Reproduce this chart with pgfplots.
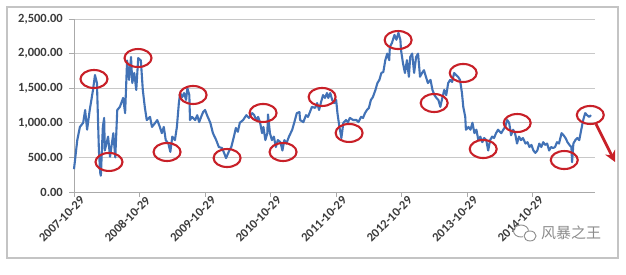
\documentclass[border=0pt]{standalone}
\usepackage{fontspec}
\setmainfont{Carlito}
\newfontfamily\cjk{Noto Sans CJK SC}
\usepackage{pgfplots}
\pgfplotsset{compat=1.18}
\usetikzlibrary{arrows.meta}
\definecolor{lineblue}{RGB}{66,114,182}
\definecolor{annred}{RGB}{200,32,40}
\definecolor{gridgray}{RGB}{200,200,200}
\definecolor{axgray}{RGB}{170,170,170}
\definecolor{txtgray}{RGB}{60,60,60}
\definecolor{wmgray}{RGB}{140,140,140}
\pgfdeclareplotmark{redellipse}{\pgfpathellipse{\pgfpointorigin}{\pgfpoint{13.5pt}{0pt}}{\pgfpoint{0pt}{9pt}}\pgfusepathqstroke}
\begin{document}
\begin{tikzpicture}
\path[use as bounding box] (0pt,0pt) rectangle (626pt,275pt);
\fill[white] (0pt,0pt) rectangle (626pt,275pt);
\draw[axgray!70, line width=1.2pt] (7pt,17pt) rectangle (618pt,268pt);
\begin{axis}[
  at={(74pt,83pt)}, anchor=south west,
  scale only axis, width=521pt, height=173pt,
  xmin=0, xmax=7.95, ymin=0, ymax=2500,
  axis lines*=left, axis line style={axgray, line width=0.8pt, -},
  tick pos=left, tick align=outside, major tick length=5pt,
  tick style={axgray, line width=0.8pt},
  ytick={0,500,1000,1500,2000,2500},
  ymajorgrids, grid style={gridgray, line width=0.8pt},
  xtick={0,1,2,3,4,5,6,7},
  xticklabels={2007-10-29,2008-10-29,2009-10-29,2010-10-29,2011-10-29,2012-10-29,2013-10-29,2014-10-29},
  xticklabel style={rotate=45, anchor=east, inner sep=0pt, xshift=5pt, yshift=-7pt, font=\fontsize{12.5}{14}\selectfont\bfseries, text=txtgray},
  yticklabel style={inner sep=0pt, xshift=-6pt, font=\fontsize{12.5}{14}\selectfont\bfseries, text=txtgray},
  /pgf/number format/.cd, fixed, fixed zerofill, precision=2, 1000 sep={,}, assume math mode=true,
  /pgfplots/.cd, clip=false,
]
\addplot[lineblue, line width=2.1pt, line join=round] coordinates {
(0.00,330)(0.05,750)(0.09,940)(0.14,1000)(0.17,1185)(0.20,900)(0.24,1185)(0.29,1475)(0.32,1690)(0.35,1575)
(0.38,600)(0.40,275)(0.41,235)(0.44,940)(0.46,1070)(0.47,600)(0.52,800)(0.55,510)(0.60,850)(0.63,500)
(0.66,1185)(0.70,1230)(0.75,1360)(0.78,1140)(0.81,1900)(0.84,1620)(0.87,1950)(0.89,1575)(0.92,1720)(0.95,1475)
(0.98,1935)(1.02,1900)(1.05,1475)(1.08,1230)(1.11,1040)(1.16,1085)(1.19,940)(1.24,1000)(1.27,1040)(1.31,940)
(1.34,850)(1.37,940)(1.40,750)(1.44,700)(1.47,580)(1.50,800)(1.54,750)(1.57,940)(1.60,1285)(1.62,1430)
(1.65,1370)(1.68,1430)(1.71,1330)(1.73,1500)(1.76,1400)(1.77,1040)(1.80,1085)(1.85,1040)(1.88,1110)(1.91,1010)
(1.94,1085)(1.97,1155)(2.00,1185)(2.03,1110)(2.08,1000)(2.12,850)(2.17,750)(2.21,650)(2.26,635)(2.29,565)
(2.32,490)(2.37,600)(2.40,650)(2.44,800)(2.47,925)(2.50,870)(2.53,1000)(2.58,1040)(2.63,1110)(2.67,1070)
(2.72,1140)(2.75,1110)(2.78,1040)(2.81,1085)(2.84,1000)(2.87,850)(2.89,940)(2.92,750)(2.95,850)(2.96,1120)
(2.99,850)(3.02,750)(3.05,800)(3.08,650)(3.11,750)(3.15,720)(3.18,600)(3.21,750)(3.24,700)(3.28,800)
(3.33,900)(3.36,1000)(3.40,1140)(3.44,1155)(3.45,1040)(3.50,1010)(3.54,1110)(3.57,1085)(3.60,1155)(3.63,1230)
(3.68,1215)(3.71,1285)(3.74,1185)(3.77,1300)(3.80,1400)(3.83,1360)(3.86,1430)(3.88,1360)(3.91,1430)(3.94,1330)
(3.97,1285)(4.00,1330)(4.02,1140)(4.05,940)(4.08,780)(4.11,1000)(4.15,1040)(4.18,1010)(4.21,1070)(4.26,1040)
(4.31,1040)(4.34,1010)(4.38,1085)(4.41,1070)(4.44,1140)(4.47,1185)(4.50,1215)(4.53,1330)(4.56,1370)(4.60,1475)
(4.63,1575)(4.66,1620)(4.69,1720)(4.72,1735)(4.75,1905)(4.78,2000)(4.81,1905)(4.82,2100)(4.85,2150)(4.89,2270)
(4.92,2200)(4.95,2300)(4.98,2200)(4.99,2050)(5.02,1860)(5.05,1720)(5.08,1905)(5.11,1665)(5.13,1950)(5.16,2000)
(5.19,1720)(5.22,1950)(5.25,2000)(5.28,1665)(5.31,1720)(5.34,1760)(5.37,1665)(5.40,1575)(5.44,1620)(5.47,1475)
(5.50,1400)(5.53,1360)(5.56,1330)(5.59,1230)(5.62,1360)(5.65,1475)(5.68,1400)(5.71,1575)(5.74,1620)(5.77,1590)
(5.80,1720)(5.83,1690)(5.86,1665)(5.89,1620)(5.92,1430)(5.94,1230)(5.97,1085)(5.98,900)(6.02,940)(6.05,900)
(6.08,1000)(6.11,850)(6.14,900)(6.17,750)(6.20,800)(6.23,720)(6.26,780)(6.29,750)(6.32,600)(6.35,750)
(6.38,800)(6.41,780)(6.44,850)(6.47,900)(6.52,850)(6.55,900)(6.58,940)(6.61,1040)(6.64,1000)(6.67,820)
(6.70,900)(6.73,850)(6.76,700)(6.79,800)(6.82,750)(6.85,780)(6.89,700)(6.92,720)(6.95,650)(6.98,680)
(7.01,600)(7.04,565)(7.07,600)(7.10,700)(7.13,650)(7.16,720)(7.19,680)(7.22,700)(7.25,600)(7.28,650)
(7.31,635)(7.34,650)(7.37,720)(7.40,700)(7.44,850)(7.47,820)(7.50,780)(7.53,720)(7.56,680)(7.59,650)
(7.60,430)(7.62,700)(7.65,750)(7.68,780)(7.71,750)(7.74,900)(7.77,1040)(7.80,1140)(7.83,1110)(7.86,1085)
(7.89,1110)
};
\addplot[only marks, mark=redellipse, mark options={annred, line width=2.1pt}] coordinates {
(0.305,1633)(0.534,434)(0.977,1936)(1.42,578)(1.817,1402)(2.336,491)(2.885,1142)(3.19,578)(3.786,1373)
(4.198,853)(4.946,2196)(5.496,1286)(5.939,1720)(6.244,621)(6.763,997)(7.481,462)(7.878,1113)
};
\end{axis}
\draw[annred, line width=2.8pt, -{Stealth[length=11pt,width=11pt]}] (596pt,151pt) -- (615pt,113pt);
% watermark
\draw[wmgray, line width=0.9pt] (521pt,44pt) ellipse (7.5pt and 6pt);
\fill[white] (530pt,39pt) ellipse (7pt and 5.5pt);
\draw[wmgray, line width=0.9pt] (530pt,39pt) ellipse (6pt and 5pt);
\node[anchor=west, text=wmgray, font=\cjk\fontsize{15}{16}\selectfont, inner sep=0pt] at (541pt,42pt) {风暴之王};
\end{tikzpicture}
\end{document}
